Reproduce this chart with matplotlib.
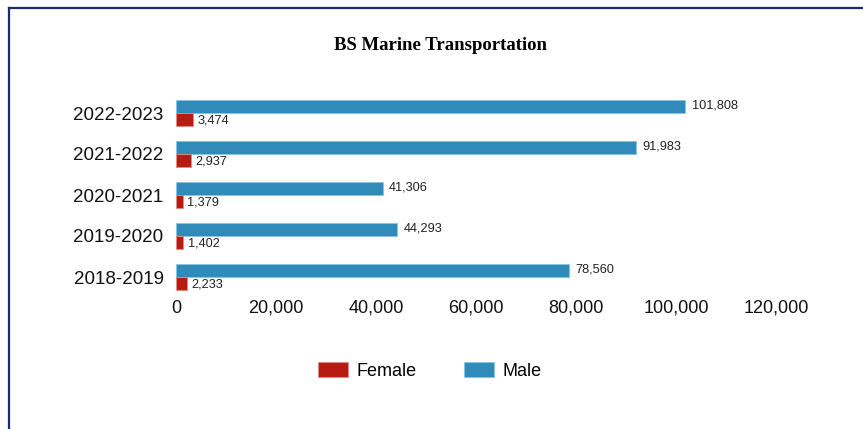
import matplotlib.pyplot as plt
from matplotlib.lines import Line2D
from matplotlib.patches import Patch
from matplotlib.ticker import FuncFormatter
import numpy as np

years = ["2018-2019", "2019-2020", "2020-2021", "2021-2022", "2022-2023"]
female = [2233, 1402, 1379, 2937, 3474]
male = [78560, 44293, 41306, 91983, 101808]
xticks = [0, 20000, 40000, 60000, 80000, 100000, 120000]

female_color = "#b71c12"
male_color = "#2e8bba"
navy = "#1f2a6b"

plt.rcParams["font.family"] = ["Liberation Sans", "DejaVu Sans"]

fig = plt.figure(figsize=(8.63, 4.29), dpi=100)
ax = fig.add_axes([176 / 863, 1 - 297.5 / 429, 600 / 863, 205 / 429])

y = np.arange(len(years))
h = 0.305
ax.barh(y + h / 2, male, height=h, color=male_color, edgecolor="#8cc3df", linewidth=0.6)
ax.barh(y - h / 2, female, height=h, color=female_color, edgecolor="#e08a84", linewidth=0.6)

# value labels
for i in range(len(years)):
    ax.text(male[i] + 1300, y[i] + h / 2 + 0.02, f"{male[i]:,}", fontsize=9.2,
            va="center", ha="left", color="#222222")
    ax.text(female[i] + 900, y[i] - h / 2 - 0.02, f"{female[i]:,}", fontsize=9.2,
            va="center", ha="left", color="#222222")

ax.set_xlim(0, 120000)
ax.set_ylim(-0.5, len(years) - 0.5)
ax.set_xticks(xticks)
ax.xaxis.set_major_formatter(FuncFormatter(lambda v, _: f"{v:,.0f}"))
ax.set_yticks(y)
ax.set_yticklabels(years)
ax.tick_params(axis="x", length=0, labelsize=13, pad=1.5, colors="#111111")
ax.tick_params(axis="y", length=0, labelsize=13.5, pad=9, colors="#111111")
for s in ax.spines.values():
    s.set_visible(False)

fig.text(441 / 863, 1 - 46 / 429, "BS Marine Transportation", ha="center", va="center",
         fontsize=13.5, fontweight="bold", family=["Liberation Serif", "DejaVu Serif"])

handles = [Patch(facecolor=female_color, edgecolor="#e08a84", linewidth=0.6, label="Female"),
           Patch(facecolor=male_color, edgecolor="#8cc3df", linewidth=0.6, label="Male")]
fig.legend(handles=handles, loc="center", bbox_to_anchor=(430 / 863, 1 - 371 / 429),
           ncol=2, frameon=False, fontsize=13, handlelength=1.65, handleheight=0.85,
           handletextpad=0.5, columnspacing=2.6)

# outer frame
fig.add_artist(Line2D([8.5 / 863, 1], [1 - 7.5 / 429, 1 - 7.5 / 429], color=navy, lw=1.6,
                      transform=fig.transFigure))
fig.add_artist(Line2D([8.5 / 863, 8.5 / 863], [0, 1 - 7.5 / 429], color=navy, lw=1.6,
                      transform=fig.transFigure))

fig.savefig("out.png", dpi=100, facecolor="white")
